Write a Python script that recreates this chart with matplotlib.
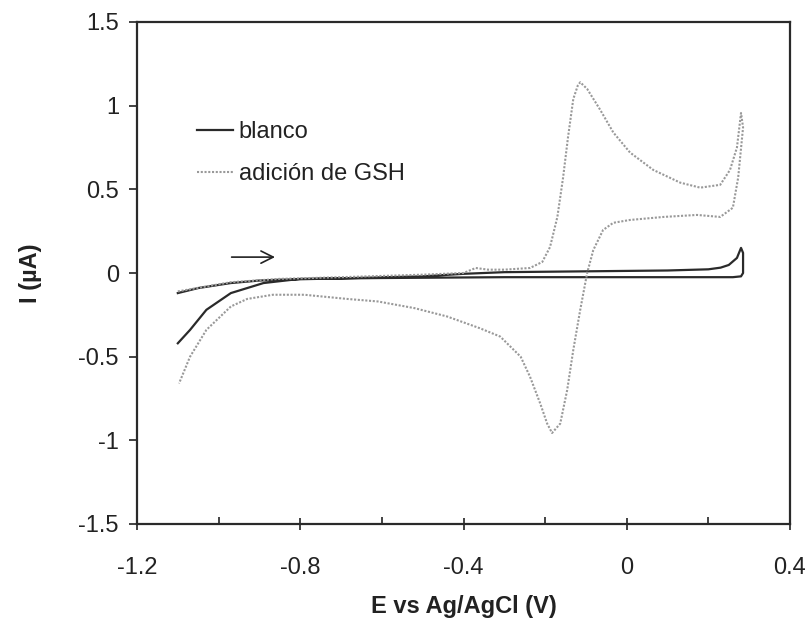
import matplotlib
matplotlib.use("Agg")
import matplotlib.pyplot as plt
from matplotlib.ticker import MultipleLocator

plt.rcParams['font.family'] = ['Liberation Sans', 'DejaVu Sans']

# blanco (solid): forward then return scan
blanco_E = [-1.10, -1.05, -0.97, -0.90, -0.85, -0.70, -0.50, -0.40, -0.30, -0.10, 0.10, 0.20,
            0.23, 0.25, 0.27, 0.28, 0.285, 0.285, 0.28, 0.26, 0.00, -0.30, -0.60, -0.80,
            -0.89, -0.97, -1.03, -1.07, -1.10]
blanco_I = [-0.12, -0.09, -0.06, -0.045, -0.04, -0.032, -0.02, -0.005, 0.005, 0.01, 0.015, 0.022,
            0.032, 0.048, 0.09, 0.15, 0.12, 0.00, -0.02, -0.025, -0.025, -0.025, -0.03, -0.035,
            -0.06, -0.12, -0.22, -0.34, -0.42]

# adición de GSH (dotted): forward then return scan
gsh_E = [-1.10, -0.97, -0.85, -0.70, -0.50, -0.40, -0.37, -0.34, -0.30, -0.237, -0.207, -0.188,
         -0.17, -0.156, -0.144, -0.131, -0.12, -0.114, -0.097, -0.065, -0.033, 0.008, 0.065, 0.131, 0.18,
         0.229, 0.253, 0.27, 0.28, 0.285, 0.273, 0.26, 0.229, 0.172, 0.09, 0.008, -0.033, -0.058,
         -0.082, -0.097, -0.114, -0.131, -0.146, -0.163, -0.183, -0.195, -0.212, -0.237, -0.26,
         -0.31, -0.36, -0.44, -0.52, -0.61, -0.685, -0.79, -0.867, -0.93, -0.97, -1.03, -1.07, -1.097]
gsh_I = [-0.11, -0.055, -0.035, -0.025, -0.01, 0.0, 0.03, 0.02, 0.02, 0.03, 0.066, 0.155,
         0.335, 0.57, 0.81, 1.04, 1.12, 1.14, 1.10, 0.975, 0.84, 0.72, 0.616, 0.54, 0.51,
         0.527, 0.616, 0.75, 0.956, 0.87, 0.57, 0.39, 0.335, 0.347, 0.335, 0.317, 0.30, 0.257,
         0.137, 0.0, -0.22, -0.46, -0.70, -0.90, -0.956, -0.90, -0.78, -0.62, -0.50,
         -0.38, -0.33, -0.26, -0.21, -0.17, -0.155, -0.13, -0.13, -0.155, -0.20, -0.34, -0.50, -0.66]

series_labels = ['blanco', 'adición de GSH']
x_ticks = [-1.2, -0.8, -0.4, 0, 0.4]
x_tick_labels = ['-1.2', '-0.8', '-0.4', '0', '0.4']
y_ticks = [-1.5, -1, -0.5, 0, 0.5, 1, 1.5]
y_tick_labels = ['-1.5', '-1', '-0.5', '0', '0.5', '1', '1.5']
arrow_start = (-0.975, 0.095)
arrow_end = (-0.855, 0.095)

fig = plt.figure(figsize=(8.11, 6.23), dpi=100)
ax = fig.add_axes([137/811, 1-524/623, 653/811, 502/623])

ax.plot(blanco_E, blanco_I, color='#2a2a2a', lw=1.6, label=series_labels[0])
ax.plot(gsh_E, gsh_I, color='#999999', lw=1.5, linestyle=(0, (1.0, 0.8)), label=series_labels[1])

ax.set_xlim(-1.2, 0.4)
ax.set_ylim(-1.5, 1.5)
ax.set_xticks(x_ticks)
ax.set_xticklabels(x_tick_labels)
ax.set_yticks(y_ticks)
ax.set_yticklabels(y_tick_labels)
ax.xaxis.set_minor_locator(MultipleLocator(0.2))

ax.tick_params(axis='x', which='major', direction='inout', length=9, width=1.2,
               labelsize=17, colors='#222222', pad=19)
ax.tick_params(axis='x', which='minor', direction='in', length=5, width=1.2, colors='#222222')
ax.tick_params(axis='y', which='major', direction='out', length=6, width=1.2,
               labelsize=17, colors='#222222', pad=7)
for s in ax.spines.values():
    s.set_color('#2a2a2a')
    s.set_linewidth(1.6)

ax.set_xlabel('E vs Ag/AgCl (V)', fontsize=17, fontweight='bold', color='#222222', labelpad=12)
ax.set_ylabel('I (µA)', fontsize=17, fontweight='bold', color='#222222', labelpad=26)

ax.annotate('', xy=arrow_end, xytext=arrow_start,
            arrowprops=dict(arrowstyle='->', color='#222222', lw=1.2, mutation_scale=22))

leg = ax.legend(loc='upper left', bbox_to_anchor=(0.06, 0.845), frameon=False, fontsize=17,
                handlelength=1.5, handletextpad=0.25, labelspacing=0.85)
for t in leg.get_texts():
    t.set_color('#222222')

fig.savefig('out.png', dpi=100)
